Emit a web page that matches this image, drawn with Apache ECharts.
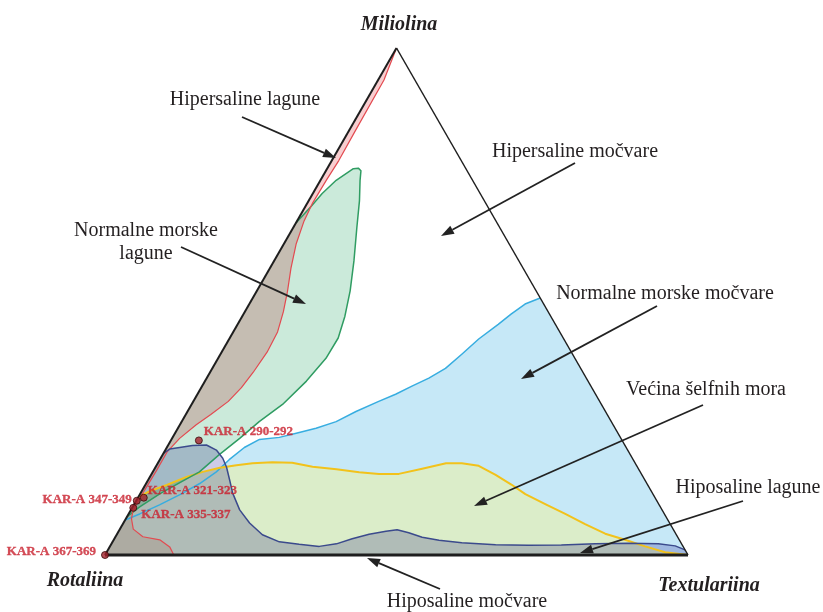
<!DOCTYPE html>
<html>
<head>
<meta charset="utf-8">
<script src="https://cdn.jsdelivr.net/npm/echarts@6/dist/echarts.min.js"></script>
<style>
html, body { margin: 0; padding: 0; background: #fff; }
#chart { width: 823px; height: 612px; }
</style>
</head>
<body>
<div id="chart"></div>
<script>
// boundaries as [Miliolina %, Textulariina %], Rotaliina = rest
const hyperLagoon = [[100,0],[93.7,1.0],[83.8,1.1],[77.8,1.2],[73.9,1.0],[69.3,0.9],[65.9,1.2],[61.4,2.1],[56.6,3.6],[52,5.3],[48,6.6],[44,7.6],[40,7.8],[36,7.4],[33,6.9],[30.3,6.0],[27.7,4.3],[25.7,2.8],[23.0,1.3],[20.4,0.5],[16.6,0.5],[13,0.4],[10.7,0.3],[8.5,0.5],[7.1,1.0],[5.1,2.3],[3.6,4.7],[3.0,7.9],[1.6,10.3],[0,11.8]];
const normalLagoon = [[65.5,0],[68.9,1.0],[71.3,1.6],[73.9,2.7],[76.2,4.5],[76.3,5.3],[75.8,6.0],[73.9,6.8],[69.9,8.7],[64.6,10.9],[58.0,13.7],[52.1,16.0],[47.1,17.6],[42.8,18.6],[38.8,18.5],[34.3,17.4],[29.7,15.6],[26.3,13.3],[23.0,11.6],[19.8,9.7],[16.4,8.0],[15.0,6.5],[12.1,3.4],[9.5,1.2],[7.5,0]];
const normalMarsh = [[6.9,0],[8.1,1.9],[9.9,4.4],[11.9,6.9],[14.1,9.2],[16.4,10.9],[18.8,11.9],[21.2,13.3],[22.8,15.1],[23.2,18.3],[24.0,20.8],[25.0,23.7],[26.3,26.5],[28.3,28.9],[30.3,31.8],[31.7,34.0],[33.3,36.0],[34.9,38.1],[36.8,40.0],[39.6,41.4],[42.6,42.8],[45.5,44.7],[47.5,45.9],[49.5,47.3],[50.7,49.3]];
const shelfSeas = [[11.4,0],[12.6,1.4],[13.8,3.7],[15.4,6.3],[16.4,8.55],[17.2,11.1],[17.7,13.7],[18.1,16.25],[18.3,19.55],[18.2,23.0],[17.4,26.9],[16.9,31.25],[16.3,35.45],[16.0,39.0],[16.0,42.4],[17.0,45.9],[18.1,49.45],[18.1,52.15],[17.6,55.3],[15.8,59.1],[13.9,62.75],[12.0,66.1],[10.0,70.6],[8.1,74.9],[6.1,79.3],[4.2,83.7],[3.0,87.7],[1.7,91.8],[0.55,95.8],[0,100]];
const hypoLagoon = [[20.1,0],[20.9,0.65],[21.2,2.2],[21.6,4.2],[21.7,6.55],[20.7,8.75],[19.1,10.65],[17.3,12.2],[14.7,14.05],[12.2,15.8],[8.9,18.65],[6.3,21.65],[4.0,25.0],[2.6,28.6],[2.1,32.25],[1.7,35.9],[2.2,38.6],[3.2,40.8],[4.1,43.25],[4.7,45.85],[5.0,47.6],[4.4,49.9],[3.5,52.65],[2.9,55.85],[2.4,60.0],[2.0,66.0],[1.9,71.65],[1.95,77.3],[2.2,83.0],[2.3,88.55],[2.2,93.8],[1.8,96.9],[1.0,99.0]];

// corners [Miliolina, Textulariina]
const cornerM = [100, 0], cornerR = [0, 0], cornerT = [0, 100];

// samples: name, Miliolina, Rotaliina, Textulariina
const samples = [
    ['KAR-A 290-292', 22.6, 72.6, 4.8],
    ['KAR-A 321-323', 11.3, 87.7, 1.0],
    ['KAR-A 347-349', 10.7, 89.2, 0.1],
    ['KAR-A 335-337', 9.3, 90.5, 0.2],
    ['KAR-A 367-369', 0, 100, 0]
];
const sampleLabel = {
    'KAR-A 290-292': ['right', [-4, -9]],
    'KAR-A 321-323': ['right', [-5, -7]],
    'KAR-A 347-349': ['left', [4, -1]],
    'KAR-A 335-337': ['right', [-1, 7]],
    'KAR-A 367-369': ['left', [0, -3]]
};

const toXY = p => [p[1] + p[0] / 2, p[0]];

// the pink field is split where it enters the hyposaline lagoon field
const splitM = 20.4;
const hyperUpper = hyperLagoon.filter(p => p[0] >= splitM);
const hyperLower = hyperLagoon.filter(p => p[0] <= splitM);

const multiplyFills = [];

function regionFill(line, close, fill, multiply) {
    const pts = line.map(toXY);
    const closing = close.map(toXY);
    if (multiply) multiplyFills.push(fill);
    return {
        type: 'custom', coordinateSystem: 'cartesian2d', silent: true, z: 2,
        data: pts,
        renderItem: function (params, api) {
            if (params.dataIndex !== 0) return null;
            let poly = pts.concat(closing).map(p => api.coord(p));
            return {
                type: 'polygon', shape: { points: poly },
                style: { fill: fill, blend: multiply ? 'multiply' : 'source-over' }
            };
        }
    };
}
function regionLine(line, stroke, width) {
    const pts = line.map(toXY);
    return {
        type: 'custom', coordinateSystem: 'cartesian2d', silent: true, z: 3,
        data: pts,
        renderItem: function (params, api) {
            if (params.dataIndex !== 0) return null;
            return {
                type: 'polyline', shape: { points: pts.map(p => api.coord(p)) },
                style: { fill: null, stroke: stroke, lineWidth: width, lineJoin: 'round' }
            };
        }
    };
}

// triangle frame
const frame = {
    type: 'custom', coordinateSystem: 'cartesian2d', silent: true, z: 4,
    data: [toXY(cornerM)],
    renderItem: function (params, api) {
        let m = api.coord(toXY(cornerM)), r = api.coord(toXY(cornerR)), t = api.coord(toXY(cornerT));
        return { type: 'group', children: [
            { type: 'line', shape: { x1: r[0], y1: r[1], x2: m[0], y2: m[1] }, style: { stroke: '#1e1e1e', lineWidth: 2 } },
            { type: 'line', shape: { x1: m[0], y1: m[1], x2: t[0], y2: t[1] }, style: { stroke: '#1e1e1e', lineWidth: 1.5 } },
            { type: 'line', shape: { x1: r[0], y1: r[1], x2: t[0], y2: t[1] }, style: { stroke: '#1e1e1e', lineWidth: 3 } }
        ]};
    }
};

const serif = '"Liberation Serif", "Times New Roman", serif';

// region labels and arrows (pixel layout)
const notes = [
    { text: 'Hipersaline lagune', at: [245, 100], from: [242, 117], to: [336, 158] },
    { text: 'Hipersaline močvare', at: [575, 152], from: [575, 163], to: [441, 236] },
    { text: 'Normalne morske\nlagune', at: [146, 242], from: [181, 247], to: [306, 304] },
    { text: 'Normalne morske močvare', at: [665, 294], from: [657, 306], to: [521, 379] },
    { text: 'Većina šelfnih mora', at: [706, 390], from: [703, 405], to: [474, 506] },
    { text: 'Hiposaline lagune', at: [748, 488], from: [743, 501], to: [580, 553] },
    { text: 'Hiposaline močvare', at: [467, 602], from: [440, 589], to: [367, 558] }
];
const vertexLabels = [
    { text: 'Miliolina', at: [399, 25] },
    { text: 'Rotaliina', at: [85, 581] },
    { text: 'Textulariina', at: [709, 586] }
];

function arrow(a, b) {
    const ang = Math.atan2(b[1] - a[1], b[0] - a[0]);
    const L = 13, W = 4.5;
    const bx = b[0] - L * Math.cos(ang), by = b[1] - L * Math.sin(ang);
    const px = -Math.sin(ang) * W, py = Math.cos(ang) * W;
    return [
        { type: 'line', z: 100, silent: true, shape: { x1: a[0], y1: a[1], x2: bx, y2: by }, style: { stroke: '#222', lineWidth: 1.8 } },
        { type: 'polygon', z: 100, silent: true, shape: { points: [[b[0], b[1]], [bx + px, by + py], [bx - px, by - py]] }, style: { fill: '#222' } }
    ];
}

let graphics = [];
notes.forEach(function (n) {
    graphics.push({
        type: 'text', z: 100, x: n.at[0], y: n.at[1], silent: true,
        style: { text: n.text, fill: '#231f20', font: '20px ' + serif, align: 'center', verticalAlign: 'middle', lineHeight: 23 }
    });
    graphics = graphics.concat(arrow(n.from, n.to));
});
vertexLabels.forEach(function (v) {
    graphics.push({
        type: 'text', z: 100, x: v.at[0], y: v.at[1], silent: true,
        style: { text: v.text, fill: '#231f20', font: 'italic bold 20px ' + serif, align: 'center', verticalAlign: 'middle' }
    });
});

let chart = echarts.init(document.getElementById('chart'));
chart.setOption({
    backgroundColor: '#fff',
    animation: false,
    grid: { left: 105, right: 135, top: 48, bottom: 57 },
    xAxis: { type: 'value', min: 0, max: 100, show: false },
    yAxis: { type: 'value', min: 0, max: 100, show: false },
    graphic: graphics,
    series: [
        regionFill(normalMarsh, [cornerT, cornerR], 'rgb(198,232,247)'),
        regionFill(shelfSeas, [cornerR], 'rgb(219,237,201)'),
        regionFill(normalLagoon, [], 'rgb(203,234,218)', true),
        regionFill(hyperUpper, [[splitM, 0]], 'rgb(248,206,208)', true),
        regionFill(hyperLower, [cornerR, [splitM, 0]], 'rgb(252,232,226)', true),
        regionFill(hypoLagoon, [cornerT, cornerR], 'rgb(205,203,232)', true),
        regionLine(normalMarsh, '#37ade0', 1.5),
        regionLine(shelfSeas, '#f2c21b', 2),
        regionLine(normalLagoon, '#2f9c62', 1.5),
        regionLine(hyperLagoon, '#e34a50', 1.2),
        regionLine(hypoLagoon, '#3b4a8c', 1.5),
        frame,
        {
            type: 'scatter', z: 6, silent: true,
            symbolSize: 7,
            itemStyle: { color: '#a3202a', borderColor: '#3a0a0a', borderWidth: 1 },
            data: samples.map(function (s) {
                let lp = sampleLabel[s[0]];
                return {
                    name: s[0],
                    value: toXY([s[1], s[3]]),
                    label: { show: true, position: lp[0], offset: lp[1] }
                };
            }),
            label: {
                formatter: '{b}', color: '#c92230', fontFamily: serif, fontWeight: 'bold', fontSize: 13,
                textBorderColor: '#c92230', textBorderWidth: 0.3
            }
        }
    ]
});

// overlapping fills are multiplied, as in the printed figure
function applyBlend() {
    let zr = chart.getZr();
    zr.storage.getDisplayList(true).forEach(function (el) {
        if (el.style && multiplyFills.indexOf(el.style.fill) >= 0) {
            el.style.blend = 'multiply';
            el.markRedraw();
        }
    });
    zr.refreshImmediately();
}
applyBlend();
chart.on('finished', applyBlend);
</script>
</body>
</html>
